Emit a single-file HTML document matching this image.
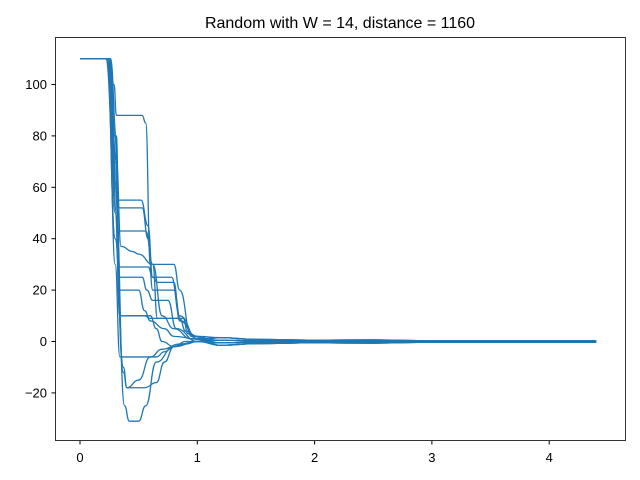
<!DOCTYPE html>
<html><head><meta charset="utf-8"><style>
body{margin:0;background:#fff}
svg{display:block;font-family:"Liberation Sans","DejaVu Sans",sans-serif}
</style></head><body>
<svg id="chart" width="640" height="480" xmlns="http://www.w3.org/2000/svg">
<rect x="0" y="0" width="640" height="480" fill="#fff"/>
<text x="340" y="28" text-anchor="middle" font-size="16">Random with W = 14, distance = 1160</text>
<g id="plot"></g>
<rect x="55.5" y="37.5" width="570" height="403" fill="none" stroke="#000" stroke-width="0.8"/>
<g id="axes"></g>
</svg>
<script>
const xTicks=[0,1,2,3,4];
const yTicks=[-20,0,20,40,60,80,100];
const tailT=[1.2,1.5,2.0,2.5,3.0,4.4];
const tailV=[1.5,0.8,0.5,0.6,0.3,0.3];
const s1t=[0,0.24,0.29,0.31,0.53,0.56,0.6,0.8,0.85,0.95];const s1v=[110,110,100,88,88,85,30,30,20,2];
const s2t=[0,0.22,0.3,0.38,0.42,0.5,0.56,0.65,0.8,1.0];const s2v=[110,110,60,-25,-31,-31,-25,-8,-2,0];
const s3t=[0,0.25,0.3,0.32,0.52,0.58,0.62,0.78,0.85,1.0];const s3v=[110,110,80,55,55,45,25,25,10,1];
const s4t=[0,0.26,0.31,0.33,0.53,0.58,0.62,0.8,0.86,1.0];const s4v=[110,110,80,52,52,40,20,20,8,1];
const s5t=[0,0.25,0.3,0.33,0.56,0.62,0.66,0.85,0.9,1.0];const s5v=[110,110,80,43,43,30,9,9,4,2];
const s6t=[0,0.25,0.31,0.35,0.45,0.5,0.62,0.7,0.8,0.95];const s6v=[110,110,70,37,35,34,30,10,5,1];
const s7t=[0,0.24,0.3,0.34,0.53,0.57,0.62,0.75,0.82,1.0];const s7v=[110,110,60,25,25,20,16,16,5,0];
const s8t=[0,0.25,0.3,0.34,0.55,0.6,0.65,0.88,0.92,1.0];const s8v=[110,110,50,10,10,9,9,9,3,2];
const s9t=[0,0.23,0.3,0.37,0.4,0.5,0.6,0.7,0.85,1.0];const s9v=[110,110,40,-10,-18,-15,-6,-3,-1,0];
const s10t=[0,0.24,0.3,0.34,0.5,0.65,0.72,0.8,0.9,1.0];const s10v=[110,110,30,-6,-6,-6,-4,-2,0,0];
const s11t=[0,0.26,0.31,0.35,0.6,0.65,0.7,0.8,0.9,1.0];const s11v=[110,110,50,10,10,5,0,-2,-1,0];
const s12t=[0,0.23,0.3,0.37,0.4,0.55,0.65,0.72,0.8,1.0];const s12v=[110,110,40,-12,-18,-18,-16,-8,-2,0];
const s13t=[0,0.25,0.3,0.34,0.58,0.62,0.66,0.8,0.85,1.0];const s13v=[110,110,70,29,29,25,23,23,8,1];
const s14t=[0,0.26,0.31,0.34,0.5,0.55,0.6,0.72,0.8,1.0];const s14v=[110,110,60,20,20,12,8,5,2,1];
const seriesT=[s1t,s2t,s3t,s4t,s5t,s6t,s7t,s8t,s9t,s10t,s11t,s12t,s13t,s14t];
const seriesV=[s1v,s2v,s3v,s4v,s5v,s6v,s7v,s8v,s9v,s10v,s11v,s12v,s13v,s14v];
const X0=80,XS=117.3,Y0=341.5,YS=2.57;
const xs=v=>X0+v*XS, ys=v=>Y0-v*YS;
const NS="http://www.w3.org/2000/svg";
const plot=document.getElementById('plot'),axes=document.getElementById('axes');
seriesT.forEach((T,i)=>{
  const V=seriesV[i];
  const pts=T.map((t,j)=>[xs(t),ys(V[j])]);
  tailT.forEach((t,j)=>pts.push([xs(t),ys(tailV[j]*((i%4)-1.5)/1.5)]));
  let d='M'+pts[0][0]+','+pts[0][1];
  for(let j=1;j<pts.length;j++){
    const a=pts[j-1],b=pts[j],mx=(a[0]+b[0])/2;
    d+=' C'+mx+','+a[1]+' '+mx+','+b[1]+' '+b[0]+','+b[1];
  }
  const p=document.createElementNS(NS,'path');
  p.setAttribute('d',d);p.setAttribute('fill','none');p.setAttribute('stroke','#1f77b4');p.setAttribute('stroke-width','1.3');
  
  
  plot.appendChild(p);
});
xTicks.forEach(v=>{
  const l=document.createElementNS(NS,'line');
  l.setAttribute('x1',xs(v));l.setAttribute('x2',xs(v));l.setAttribute('y1',441);l.setAttribute('y2',444.5);l.setAttribute('stroke','#000');
  
  
  axes.appendChild(l);
  const t=document.createElementNS(NS,'text');
  t.setAttribute('x',xs(v));t.setAttribute('y',462);t.setAttribute('text-anchor','middle');t.setAttribute('font-size','13');t.textContent=v;
  
  
  axes.appendChild(t);
});
yTicks.forEach(v=>{
  const l=document.createElementNS(NS,'line');
  l.setAttribute('x1',51.5);l.setAttribute('x2',55.5);l.setAttribute('y1',ys(v));l.setAttribute('y2',ys(v));l.setAttribute('stroke','#000');
  
  
  axes.appendChild(l);
  const t=document.createElementNS(NS,'text');
  t.setAttribute('x',47);t.setAttribute('y',ys(v)+4.5);t.setAttribute('text-anchor','end');t.setAttribute('font-size','13');t.textContent=v<0?'\u2212'+(-v):v;
  
  
  axes.appendChild(t);
});
</script>
</body></html>
